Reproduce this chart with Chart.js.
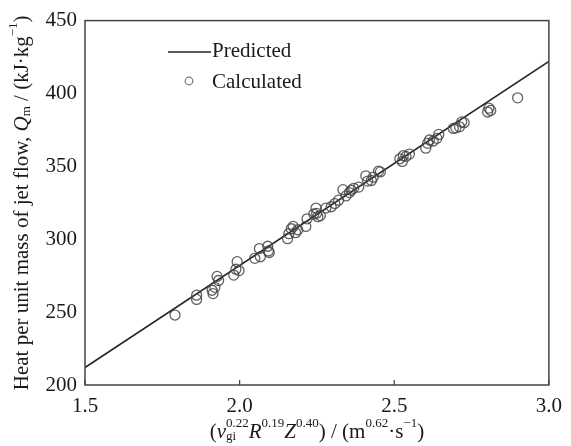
<!DOCTYPE html>
<html>
<head>
<meta charset="utf-8">
<script src="https://cdn.jsdelivr.net/npm/chart.js@4.4.1/dist/chart.umd.min.js"></script>
<style>
html,body{margin:0;padding:0;background:#fff;}
#wrap{width:571px;height:446px;}
</style>
</head>
<body>
<div id="wrap"><canvas id="c" width="571" height="446"></canvas></div>
<script>
// Calculated points (x, Q_m)
const calcX = [1.791,1.861,1.861,1.911,1.914,1.920,1.927,1.932,1.981,1.988,1.992,1.998,2.049,2.064,2.067,2.091,2.093,2.096,2.155,2.159,2.167,2.173,2.181,2.188,2.214,2.218,2.240,2.247,2.249,2.253,2.261,2.279,2.296,2.308,2.320,2.334,2.344,2.355,2.361,2.369,2.385,2.408,2.414,2.426,2.432,2.449,2.455,2.518,2.526,2.529,2.538,2.549,2.602,2.608,2.614,2.626,2.638,2.644,2.691,2.699,2.711,2.718,2.726,2.802,2.806,2.812,2.899];
const calcY = [248.0,261.6,258.7,265.0,262.7,267.0,274.5,271.7,275.4,279.4,284.6,278.5,286.9,293.6,288.0,295.2,292.0,290.9,300.4,303.8,307.2,308.8,304.5,306.5,308.8,314.0,317.3,321.4,317.8,315.5,316.2,321.4,322.3,324.5,326.8,334.0,329.7,332.0,333.6,334.9,335.8,343.5,339.9,340.3,342.6,346.7,346.2,355.2,353.4,357.3,356.8,358.4,362.5,365.8,368.1,367.4,369.2,371.9,376.0,376.4,377.1,380.5,380.0,387.3,390.0,388.4,397.0];
// Predicted line end points
const predX = [1.5, 3.0];
const predY = [212, 422];
// Tick labels
const xTicks = [1.5, 2.0, 2.5, 3.0];
const yTicks = [200, 250, 300, 350, 400, 450];
const seriesNames = ["Predicted", "Calculated"];

const FONT = '"Liberation Serif","Times New Roman",serif';

const framePlugin = {
  id: 'frame',
  afterDraw(chart) {
    const ctx = chart.ctx;
    const a = chart.chartArea;
    const xs = chart.scales.x;
    ctx.save();
    ctx.strokeStyle = '#444';
    ctx.lineWidth = 1.5;
    ctx.strokeRect(a.left, a.top, a.right - a.left, a.bottom - a.top);
    // inward ticks on bottom axis
    ctx.lineWidth = 1.2;
    xTicks.forEach(v => {
      const px = xs.getPixelForValue(v);
      ctx.beginPath(); ctx.moveTo(px, a.bottom); ctx.lineTo(px, a.bottom - 5); ctx.stroke();
    });
    // legend
    ctx.strokeStyle = '#222';
    ctx.lineWidth = 1.5;
    ctx.beginPath(); ctx.moveTo(168, 52); ctx.lineTo(211, 52); ctx.stroke();
    ctx.strokeStyle = '#777';
    ctx.lineWidth = 1.2;
    ctx.beginPath(); ctx.arc(189, 81, 3.8, 0, Math.PI*2); ctx.stroke();
    ctx.fillStyle = '#1a1a1a';
    ctx.font = '21px ' + FONT;
    ctx.textBaseline = 'middle';
    ctx.textAlign = 'left';
    ctx.fillText(seriesNames[0], 212, 51);
    ctx.fillText(seriesNames[1], 212, 82);

    // x axis title with rich text
    const segs = [
      {t:'(', f:'21px '},
      {t:'v', f:'italic 21px '},
      {t:'0.22', f:'13px ', dy:-8},
      {t:'gi', f:'13px ', dy:5, back:true},
      {t:'R', f:'italic 21px '},
      {t:'0.19', f:'13px ', dy:-8},
      {t:'Z', f:'italic 21px '},
      {t:'0.40', f:'13px ', dy:-8},
      {t:') / (m', f:'21px '},
      {t:'0.62', f:'13px ', dy:-8},
      {t:'·s', f:'21px '},
      {t:'−1', f:'13px ', dy:-8},
      {t:')', f:'21px '}
    ];
    drawRich(ctx, segs, (a.left + a.right)/2, 432);

    // y axis title rotated
    ctx.save();
    ctx.translate(22, (a.top + a.bottom)/2);
    ctx.rotate(-Math.PI/2);
    const ysegs = [
      {t:'Heat per unit mass of jet flow, ', f:'21px '},
      {t:'Q', f:'italic 21px '},
      {t:'m', f:'13px ', dy:5},
      {t:' / (kJ·kg', f:'21px '},
      {t:'−1', f:'13px ', dy:-8},
      {t:')', f:'21px '}
    ];
    drawRich(ctx, ysegs, 0, 0);
    ctx.restore();
    ctx.restore();
  }
};

function drawRich(ctx, segs, cx, cy) {
  const widths = segs.map(s => { ctx.font = s.f + FONT; return ctx.measureText(s.t).width; });
  const pos = [];
  let x = 0;
  segs.forEach((s, i) => {
    if (s.back) { pos.push(x - widths[i-1]); x = Math.max(x, x - widths[i-1] + widths[i]); }
    else { pos.push(x); x += widths[i]; }
  });
  const total = x;
  ctx.textAlign = 'left';
  ctx.textBaseline = 'middle';
  ctx.fillStyle = '#1a1a1a';
  segs.forEach((s, i) => {
    ctx.font = s.f + FONT;
    ctx.fillText(s.t, cx - total/2 + pos[i], cy + (s.dy || 0));
  });
}

new Chart(document.getElementById('c'), {
  type: 'scatter',
  data: {
    datasets: [
      {
        label: seriesNames[0],
        data: predX.map((x, i) => ({x, y: predY[i]})),
        showLine: true,
        borderColor: '#222',
        borderWidth: 1.5,
        pointRadius: 0,
        fill: false,
        order: 2
      },
      {
        label: seriesNames[1],
        data: calcX.map((x, i) => ({x, y: calcY[i]})),
        showLine: false,
        pointRadius: 5,
        pointBorderWidth: 1.3,
        pointBorderColor: 'rgba(70,70,70,0.85)',
        pointBackgroundColor: 'rgba(0,0,0,0)',
        order: 1
      }
    ]
  },
  options: {
    responsive: false,
    animation: false,
    layout: { padding: { left: 0, right: 22, top: 18, bottom: 0 } },
    plugins: { legend: { display: false }, tooltip: { enabled: false } },
    scales: {
      x: {
        type: 'linear', min: 1.5, max: 3.0,
        afterBuildTicks: s => { s.ticks = xTicks.map(v => ({value: v})); },
        afterFit: s => { s.height = 61; },
        grid: { display: false, drawTicks: false },
        border: { display: false },
        ticks: { font: { family: FONT, size: 21 }, color: '#1a1a1a', padding: 9,
          callback: v => v.toFixed(1), maxRotation: 0 }
      },
      y: {
        type: 'linear', min: 200, max: 450,
        afterBuildTicks: s => { s.ticks = yTicks.map(v => ({value: v})); },
        afterFit: s => { s.width = 85; },
        grid: { display: false, drawTicks: false },
        border: { display: false },
        ticks: { font: { family: FONT, size: 21 }, color: '#1a1a1a', padding: 8 }
      }
    }
  },
  plugins: [framePlugin]
});
</script>
</body>
</html>
